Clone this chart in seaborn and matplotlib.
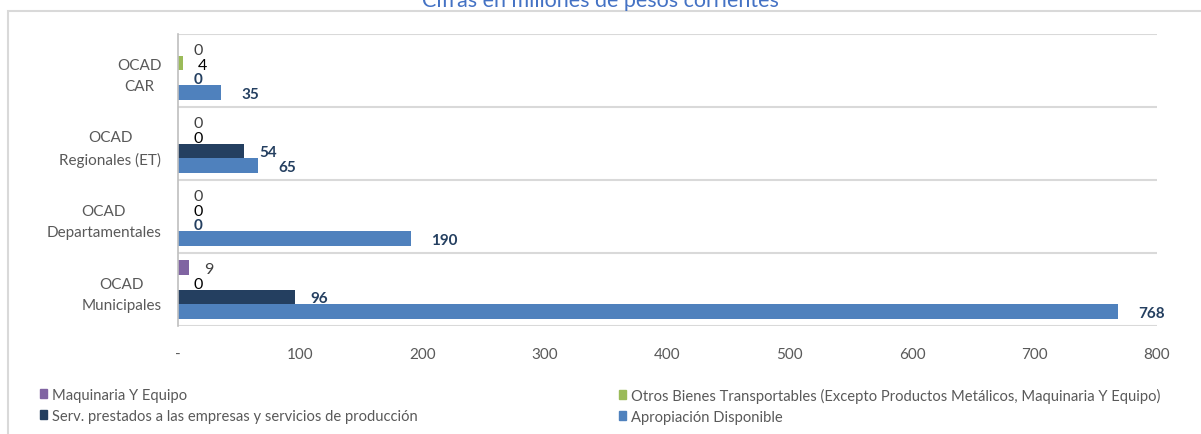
import matplotlib
matplotlib.use("Agg")
import matplotlib.pyplot as plt
import matplotlib.patches as mpatches
import pandas as pd
import seaborn as sns

# ============================================
# Data
# ============================================
grupos = ["OCAD\nCAR", "OCAD\nRegionales (ET)", "OCAD\nDepartamentales", "OCAD\nMunicipales"]
series = [
    "Maquinaria Y Equipo",
    "Otros Bienes Transportables (Excepto Productos Metálicos, Maquinaria Y Equipo)",
    "Serv. prestados a las empresas y servicios de producción",
    "Apropiación Disponible",
]
maquinaria = [0, 0, 0, 9]
otros_bienes = [4, 0, 0, 0]
serv_prestados = [0, 54, 0, 96]
apropiacion = [35, 65, 190, 768]
x_ticks = [0, 100, 200, 300, 400, 500, 600, 700, 800]
x_tick_labels = ["-", "100", "200", "300", "400", "500", "600", "700", "800"]

colores = ["#8064A2", "#9BBB59", "#243F60", "#4F81BD"]

rows = []
for s, vals in zip(series, [maquinaria, otros_bienes, serv_prestados, apropiacion]):
    for g, v in zip(grupos, vals):
        rows.append({"grupo": g, "serie": s, "valor": v})
df = pd.DataFrame(rows)

# ============================================
# Plot
# ============================================
sns.set_style("white")
plt.rcParams["font.family"] = ["Lato", "DejaVu Sans"]

fig = plt.figure(figsize=(12.01, 4.35), dpi=100)
ax = fig.add_axes([178 / 1201, 1 - 327 / 435, 979 / 1201, 292 / 435])

sns.barplot(data=df, y="grupo", x="valor", hue="serie",
            order=grupos, hue_order=series, palette=colores,
            orient="h", width=0.8, saturation=1, linewidth=0,
            legend=False, ax=ax)

ax.set_xlim(0, 800)
ax.set_ylim(3.5, -0.5)
ax.set_xticks(x_ticks)
ax.set_xticklabels(x_tick_labels)
ax.set_xlabel("")
ax.set_ylabel("")

# category separators
for yb in [-0.5, 0.5, 1.5, 2.5, 3.5]:
    ax.axhline(yb, color="#D9D9D9", lw=1.5, zorder=0)

for side in ["top", "right", "bottom"]:
    ax.spines[side].set_visible(False)
ax.spines["left"].set_color("#BFBFBF")
ax.spines["left"].set_linewidth(1.2)

ax.tick_params(axis="both", length=0, colors="#595959", labelsize=11)
ax.tick_params(axis="x", pad=15)
ax.tick_params(axis="y", pad=12)
for lbl in ax.get_yticklabels():
    lbl.set_multialignment("center")
    lbl.set_linespacing(1.6)

# data labels
label_style = [
    dict(color="#404040", fontweight="normal", fontsize=11.5, padding=11),
    dict(color="#000000", fontweight="normal", fontsize=11.5, padding=11),
    dict(color="#243F60", fontweight="bold", fontsize=11, padding=11),
    dict(color="#243F60", fontweight="bold", fontsize=11, padding=15),
]
for cont, vals, st in zip(ax.containers, [maquinaria, otros_bienes, serv_prestados, apropiacion], label_style):
    for t in ax.bar_label(cont, labels=[str(v) for v in vals], **st):
        t.set_va("center_baseline")

# legend in two columns
handles = [mpatches.Patch(color=c) for c in colores]
leg_kw = dict(frameon=False, fontsize=10.6, labelcolor="#595959",
              handlelength=0.5, handleheight=0.55, handletextpad=0.3,
              labelspacing=0.45, loc="upper left", borderaxespad=0, borderpad=0)
leg1 = fig.legend([handles[0], handles[2]], [series[0], series[2]],
                  bbox_to_anchor=(40 / 1201, 1 - 389 / 435), **leg_kw)
leg2 = fig.legend([handles[1], handles[3]], [series[1], series[3]],
                  bbox_to_anchor=(619 / 1201, 1 - 389 / 435), **leg_kw)

# title (partly cut off at the top) and outer frame
fig.text(0.5, 1 - 7 / 435, "Cifras en millones de pesos corrientes",
         ha="center", va="baseline", color="#4472C4", fontsize=15.5)
fig.patches.append(mpatches.Rectangle((8 / 1201, -0.5), 2, 1.5 - 12 / 435,
                                      transform=fig.transFigure, fill=False,
                                      edgecolor="#D9D9D9", lw=1.5))

fig.savefig("out.png", dpi=100)
